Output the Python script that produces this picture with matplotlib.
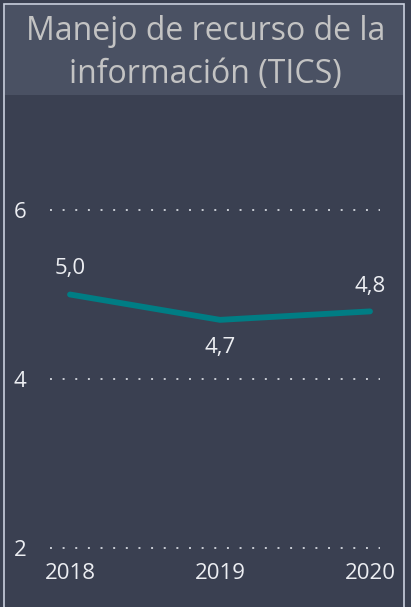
import matplotlib
matplotlib.use("Agg")
import matplotlib.pyplot as plt
from matplotlib.patches import Rectangle

years = [2018, 2019, 2020]
values = [5.0, 4.7, 4.8]
value_labels = ["5,0", "4,7", "4,8"]
y_ticks = [2, 4, 6]
title = "Manejo de recurso de la\ninformación (TICS)"

W, H = 411, 607
BG = "#3a4051"
TITLE_BG = "#4a5163"
TEXT = "#eceef2"
LINE = "#007d84"

plt.rcParams['font.family'] = ['Open Sans', 'DejaVu Sans']

fig = plt.figure(figsize=(W / 100, H / 100), dpi=100)
fig.patch.set_facecolor(BG)

# title band
fig.patches.append(Rectangle((5 / W, 1 - 95 / H), 398 / W, 90 / H,
                             transform=fig.transFigure, facecolor=TITLE_BG,
                             edgecolor="none", zorder=0))
# frame
fig.patches.append(Rectangle((3.5 / W, -0.05), 400.5 / W, 1.05 - 4 / H,
                             transform=fig.transFigure, facecolor="none",
                             edgecolor="#c9d0de", linewidth=1.2, zorder=1))

fig.text(0.5, 1 - 53 / H, title, ha="center", va="center", fontsize=23,
         color="#c3c3c3", linespacing=1.38)

left, right = 50 / W, 380 / W
bottom, top = (H - 548) / H, (H - 210) / H
ax = fig.add_axes([left, bottom, right - left, top - bottom])
ax.set_facecolor("none")
ax.plot(years, values, color=LINE, linewidth=4.2, solid_capstyle="round",
        solid_joinstyle="round", zorder=3)

ax.set_xlim(2018 - 20 / 150, 2020 + 10 / 150)
ax.set_ylim(2, 6)
ax.set_yticks(y_ticks)
ax.set_yticklabels([str(t) for t in y_ticks])
ax.set_xticks(years)
ax.set_xticklabels([str(y) for y in years])
ax.tick_params(axis="y", length=0, pad=17, labelsize=16, labelcolor=TEXT)
ax.tick_params(axis="x", length=0, pad=11, labelsize=16, labelcolor=TEXT)
for s in ax.spines.values():
    s.set_visible(False)
ax.yaxis.grid(True, color="#c8ccd4", linewidth=1.4, linestyle=(0, (1, 5.5)))
ax.xaxis.grid(False)
for gl in ax.yaxis.get_gridlines():
    gl.set_clip_on(False)

offsets = [19, -20, 18]
for x, v, lab, off in zip(years, values, value_labels, offsets):
    ax.annotate(lab, (x, v), xytext=(0, off), textcoords="offset points",
                ha="center", va="center", fontsize=16, color=TEXT)

fig.savefig("out.png", dpi=100, facecolor=BG)
